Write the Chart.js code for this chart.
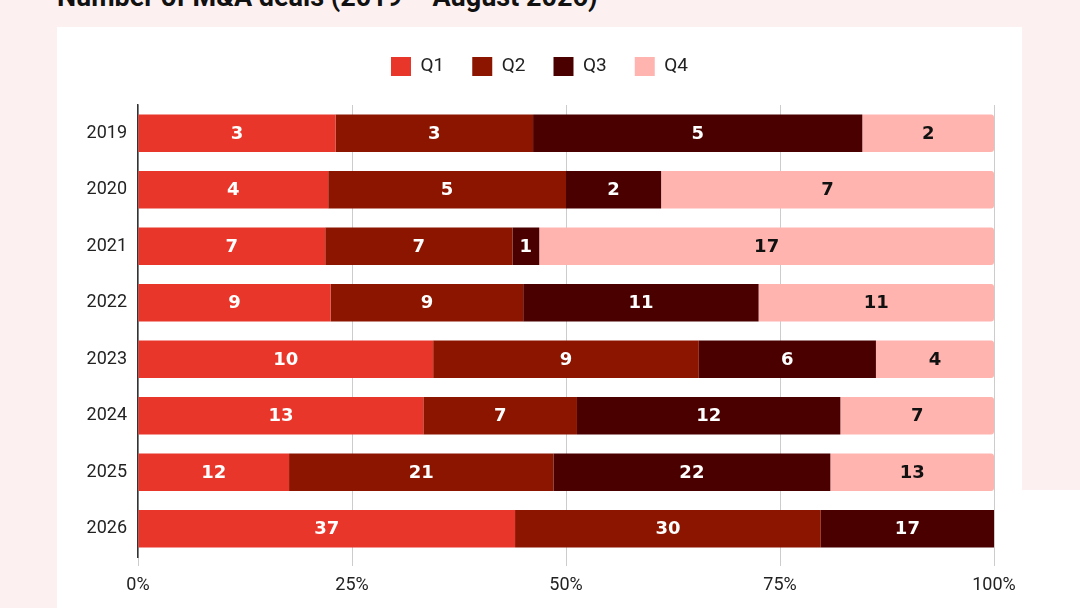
<!DOCTYPE html>
<html>
<head>
<meta charset="utf-8">
<script src="https://cdn.jsdelivr.net/npm/chart.js@4.4.1/dist/chart.umd.min.js"></script>
<style>
  html, body { margin: 0; padding: 0; background: #fdf0f0; width: 1080px; height: 608px; overflow: hidden; }
  #title { position: absolute; left: 57px; top: -16px; font: bold 27px Roboto, sans-serif; line-height: 27px; color: #111; white-space: nowrap; }
  #panel { position: absolute; left: 57px; top: 27px; width: 965px; height: 581px; background: #fff; }
  #corner { position: absolute; left: 1022px; top: 490px; width: 58px; height: 118px; background: #fff; }
</style>
</head>
<body>
<div id="title">Number of M&amp;A deals (2019 – August 2026)</div>
<div id="panel"><canvas id="chart" width="965" height="581"></canvas></div>
<div id="corner"></div>
<script>
var years = ['2019', '2020', '2021', '2022', '2023', '2024', '2025', '2026'];
var quarters = ['Q1', 'Q2', 'Q3', 'Q4'];
var q1 = [3, 4, 7, 9, 10, 13, 12, 37];
var q2 = [3, 5, 7, 9, 9, 7, 21, 30];
var q3 = [5, 2, 1, 11, 6, 12, 22, 17];
var q4 = [2, 7, 17, 11, 4, 7, 13, null];
var palette = ['#e9362a', '#8c1500', '#4b0000', '#ffb4af'];
var labelColors = ['#fff', '#fff', '#fff', '#111'];

var counts = [q1, q2, q3, q4];

// share of each quarter in the year's total
var totals = years.map(function (y, i) {
	var s = 0;
	for (var k = 0; k < counts.length; k++) s += counts[k][i] || 0;
	return s;
});

var datasets = counts.map(function (series, k) {
	return {
		label: quarters[k],
		data: series.map(function (v, i) { return v == null ? null : v / totals[i] * 100; }),
		counts: series,
		backgroundColor: palette[k],
		borderWidth: 0,
		borderSkipped: false,
		borderRadius: k === 3 ? { topRight: 3, bottomRight: 3 } : 0,
		barPercentage: 0.66,
		categoryPercentage: 1
	};
});

var barLabels = {
	id: 'barLabels',
	afterDatasetsDraw: function (chart) {
		var ctx = chart.ctx;
		ctx.save();
		ctx.font = 'bold 18px "DejaVu Sans", sans-serif';
		ctx.textAlign = 'center';
		ctx.textBaseline = 'middle';
		chart.data.datasets.forEach(function (ds, k) {
			chart.getDatasetMeta(k).data.forEach(function (bar, i) {
				var v = ds.counts[i];
				if (v == null) return;
				ctx.fillStyle = labelColors[k];
				ctx.fillText(String(v), (bar.x + bar.base) / 2, bar.y + 1);
			});
		});
		ctx.restore();
	}
};

// a bit more room under the legend
var legendGap = {
	id: 'legendGap',
	beforeInit: function (chart) {
		var fit = chart.legend.fit;
		chart.legend.fit = function () {
			fit.bind(chart.legend)();
			this.height += 19;
		};
	}
};

new Chart(document.getElementById('chart').getContext('2d'), {
	type: 'bar',
	data: { labels: years, datasets: datasets },
	plugins: [barLabels, legendGap],
	options: {
		indexAxis: 'y',
		responsive: false,
		animation: false,
		layout: { padding: { top: 2, right: 0, left: 0, bottom: 0 } },
		plugins: {
			tooltip: { enabled: false },
			legend: {
				display: true,
				position: 'top',
				labels: {
					boxWidth: 20,
					boxHeight: 19,
					padding: 28,
					color: '#222',
					font: { family: 'Roboto', size: 19 }
				}
			}
		},
		scales: {
			x: {
				stacked: true,
				min: 0,
				max: 100,
				ticks: {
					stepSize: 25,
					padding: 9,
					color: '#222',
					font: { family: 'Roboto', size: 18 },
					callback: function (v) { return v + '%'; }
				},
				grid: { color: '#cccccc', lineWidth: 1, drawTicks: true, tickLength: 9 },
				border: { display: false },
				afterFit: function (scale) { scale.height = 51; scale.paddingRight = 28; }
			},
			y: {
				stacked: true,
				ticks: {
					padding: 3,
					color: '#222',
					font: { family: 'Roboto', size: 18 }
				},
				grid: { display: false },
				border: { display: true, color: '#333', width: 1.5 },
				afterFit: function (scale) { scale.width = 81; }
			}
		}
	}
});
</script>
</body>
</html>
